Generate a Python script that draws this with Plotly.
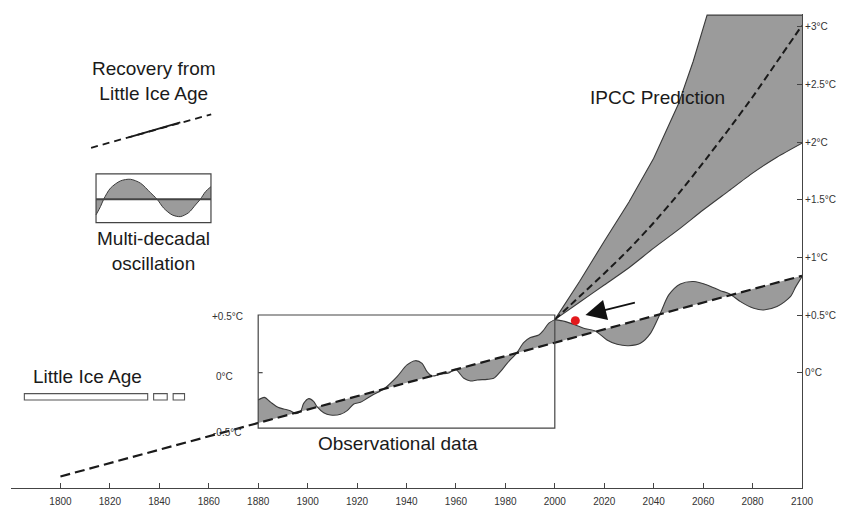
import numpy as np
import plotly.graph_objects as go

# ---------------- data ----------------
x_tick_vals = [1780, 1800, 1820, 1840, 1860, 1880, 1900, 1920, 1940, 1960, 1980, 2000, 2020, 2040, 2060, 2080, 2100]
x_tick_text = ["", "1800", "1820", "1840", "1860", "1880", "1900", "1920", "1940", "1960", "1980", "2000", "2020", "2040", "2060", "2080", "2100"]
y_tick_vals = [0, 0.5, 1.0, 1.5, 2.0, 2.5, 3.0]
y_tick_text = ["0°C", "+0.5°C", "+1°C", "+1.5°C", "+2°C", "+2.5°C", "+3°C"]

# long-term recovery trend (dashed)
trend_years = [1800, 2100]
trend_vals = [-0.90, 0.84]

# observational curve 1880-2000
obs_years = [1880.0, 1882.5, 1885.0, 1888.0, 1890.3, 1893.0, 1895.1, 1897.1, 1898.4, 1900.5, 1902.5,
             1903.8, 1906.5, 1909.2, 1913.3, 1916.0, 1918.7, 1921.4, 1924.1, 1926.8, 1930.8,
             1936.2, 1940.2, 1943.6, 1946.3, 1948.3, 1950.4, 1953.7, 1957.1, 1959.8, 1963.2,
             1965.9, 1968.6, 1972.6, 1975.3, 1978.0, 1980.7, 1984.7, 1987.4, 1990.1, 1993.5,
             1995.5, 1997.5, 2000.0]
obs_vals = [-0.237, -0.214, -0.255, -0.300, -0.315, -0.330, -0.355, -0.338, -0.266, -0.225, -0.251,
            -0.295, -0.347, -0.367, -0.361, -0.329, -0.271, -0.257, -0.222, -0.188, -0.141,
            -0.034, 0.067, 0.104, 0.081, 0.009, -0.029, -0.012, -0.002, 0.029, -0.049,
            -0.072, -0.063, -0.058, -0.049, 0.009, 0.081, 0.174, 0.260, 0.304, 0.327,
            0.370, 0.428, 0.460]

# projected multi-decadal oscillation 2000-2100
fut_years = [2000.0, 2004.0, 2008.3, 2011.7, 2016.4, 2021.1, 2025.2, 2029.9, 2034.6, 2038.7,
             2042.7, 2046.1, 2050.8, 2056.2, 2061.6, 2067.0, 2070.8, 2075.1, 2080.5, 2084.5,
             2089.9, 2095.3, 2097.5, 2100.0]
fut_vals = [0.460, 0.445, 0.414, 0.385, 0.362, 0.284, 0.246, 0.234, 0.255, 0.341,
            0.515, 0.674, 0.769, 0.790, 0.761, 0.711, 0.683, 0.616, 0.558, 0.544,
            0.573, 0.659, 0.746, 0.833]

# IPCC prediction band
ipcc_years = [2000, 2010, 2020, 2030, 2040, 2050, 2060, 2070, 2080, 2090, 2100]
ipcc_mid = [0.46, 0.66, 0.86, 1.07, 1.30, 1.55, 1.82, 2.10, 2.39, 2.70, 3.01]
ipcc_low = [0.46, 0.61, 0.76, 0.91, 1.08, 1.24, 1.41, 1.57, 1.73, 1.87, 1.99]
ipcc_up_years = [2000, 2010, 2020, 2030, 2040, 2050, 2056, 2061.6, 2100]
ipcc_up = [0.46, 0.79, 1.14, 1.48, 1.86, 2.33, 2.70, 3.10, 3.10]

# 2008 observation (red dot)
obs2008_year = [2008.3]
obs2008_val = [0.451]

# legend glyph: recovery line
rec_x = [1812.4, 1861.0]
rec_y = [1.95, 2.24]
rec_solid_x = [1827.6, 1848.5]
rec_solid_y = [2.04, 2.17]

# legend glyph: oscillation
osc_x = [1814.4, 1816.2, 1817.5, 1820.2, 1824.3, 1828.3, 1832.4, 1836.4, 1839.1, 1841.8,
         1845.2, 1848.5, 1851.9, 1854.6, 1856.6, 1858.7, 1860.9]
osc_y = [1.368, 1.440, 1.504, 1.599, 1.663, 1.677, 1.643, 1.561, 1.504, 1.426,
         1.368, 1.353, 1.388, 1.454, 1.504, 1.570, 1.613]
osc_center = 1.504

GRAY = "#9b9b9b"
EDGE = "#3a3a3a"
FONT = "Liberation Sans, Arial, Helvetica, sans-serif"

fig = go.Figure()

# observational fill
obs_trend = np.interp(obs_years, trend_years, trend_vals)
fig.add_trace(go.Scatter(x=obs_years, y=obs_trend, mode="lines", line=dict(width=0), hoverinfo="skip"))
fig.add_trace(go.Scatter(x=obs_years, y=obs_vals, mode="lines", fill="tonexty", fillcolor=GRAY,
                         line=dict(color=EDGE, width=1.1, shape="spline", smoothing=0.8)))

# future oscillation fill
fut_trend = np.interp(fut_years, trend_years, trend_vals)
fig.add_trace(go.Scatter(x=fut_years, y=fut_trend, mode="lines", line=dict(width=0), hoverinfo="skip"))
fig.add_trace(go.Scatter(x=fut_years, y=fut_vals, mode="lines", fill="tonexty", fillcolor=GRAY,
                         line=dict(color=EDGE, width=1.1, shape="spline", smoothing=0.8)))

# IPCC band
fig.add_trace(go.Scatter(x=ipcc_years, y=ipcc_low, mode="lines",
                         line=dict(color=EDGE, width=1.1, shape="spline", smoothing=0.6)))
fig.add_trace(go.Scatter(x=ipcc_up_years, y=ipcc_up, mode="lines", fill="tonexty", fillcolor=GRAY,
                         line=dict(color=EDGE, width=1.1)))
fig.add_trace(go.Scatter(x=ipcc_years, y=ipcc_mid, mode="lines",
                         line=dict(color="#1a1a1a", width=2, dash="7px,4px", shape="spline", smoothing=0.6)))

# trend line
fig.add_trace(go.Scatter(x=trend_years, y=trend_vals, mode="lines",
                         line=dict(color="#1a1a1a", width=2.2, dash="10px,5px")))

# legend glyph: recovery line
fig.add_trace(go.Scatter(x=rec_x, y=rec_y, mode="lines",
                         line=dict(color="#1a1a1a", width=1.8, dash="7px,5px")))
fig.add_trace(go.Scatter(x=rec_solid_x, y=rec_solid_y, mode="lines",
                         line=dict(color="#1a1a1a", width=1.8)))

# legend glyph: oscillation
fig.add_trace(go.Scatter(x=osc_x, y=[osc_center] * len(osc_x), mode="lines", line=dict(width=0), hoverinfo="skip"))
fig.add_trace(go.Scatter(x=osc_x, y=osc_y, mode="lines", fill="tonexty", fillcolor=GRAY,
                         line=dict(color=EDGE, width=1, shape="spline", smoothing=0.8)))
fig.add_trace(go.Scatter(x=[osc_x[0], osc_x[-1]], y=[osc_center, osc_center], mode="lines",
                         line=dict(color="#444444", width=2)))

# red dot
fig.add_trace(go.Scatter(x=obs2008_year, y=obs2008_val, mode="markers",
                         marker=dict(color="#e3191c", size=9, line=dict(width=0))))

shapes = [
    # observational box
    dict(type="rect", xref="x", yref="y", x0=1880, x1=2000, y0=-0.48, y1=0.5,
         line=dict(color="#444444", width=1.2), layer="above"),
    dict(type="line", xref="x", yref="y", x0=1880, x1=1881.8, y0=0, y1=0,
         line=dict(color="#444444", width=1.2)),
    # oscillation legend box
    dict(type="rect", xref="x", yref="y", x0=osc_x[0], x1=osc_x[-1], y0=1.301, y1=1.723,
         line=dict(color="#444444", width=1.2)),
    # Little Ice Age bars
    dict(type="rect", xref="x", yref="y", x0=1785.4, x1=1835.3, y0=-0.237, y1=-0.182,
         line=dict(color="#555555", width=1.1), fillcolor="white"),
    dict(type="rect", xref="x", yref="y", x0=1837.7, x1=1843.2, y0=-0.237, y1=-0.182,
         line=dict(color="#555555", width=1.1), fillcolor="white"),
    dict(type="rect", xref="x", yref="y", x0=1845.6, x1=1850.2, y0=-0.237, y1=-0.182,
         line=dict(color="#555555", width=1.1), fillcolor="white"),
]

big = dict(family=FONT, size=19, color="#1a1a1a")
small = dict(family=FONT, size=10, color="#333333")
annotations = [
    dict(x=1837.7, y=2.532, text="Recovery from<br>Little Ice Age", showarrow=False, font=big),
    dict(x=1837.7, y=1.057, text="Multi-decadal<br>oscillation", showarrow=False, font=big),
    dict(x=1811.1, y=-0.033, text="Little Ice Age", showarrow=False, font=big),
    dict(x=1936.7, y=-0.61, text="Observational data", showarrow=False, font=big),
    dict(x=2041.5, y=2.39, text="IPCC Prediction", showarrow=False, font=big),
    dict(x=1867.6, y=0.483, text="+0.5°C", showarrow=False, font=small),
    dict(x=1866.2, y=-0.03, text="0°C", showarrow=False, font=small),
    dict(x=1867.4, y=-0.52, text="-0.5°C", showarrow=False, font=small),
    dict(x=2012.4, y=0.50, ax=2033.0, ay=0.61, axref="x", ayref="y", text="",
         showarrow=True, arrowhead=2, arrowsize=2.3, arrowwidth=1.8, arrowcolor="#111111"),
]

fig.update_layout(
    width=842, height=506,
    margin=dict(l=11, r=40, t=14, b=18),
    paper_bgcolor="white", plot_bgcolor="white",
    showlegend=False,
    font=dict(family=FONT, color="#222222"),
    shapes=shapes, annotations=annotations,
    xaxis=dict(range=[1780, 2100], tickmode="array", tickvals=x_tick_vals, ticktext=x_tick_text,
               ticks="inside", ticklen=5, tickcolor="#444444", tickwidth=1.2,
               showline=True, linecolor="#444444", linewidth=1.2, ticklabelstandoff=4,
               showgrid=False, zeroline=False, tickfont=small, automargin=False),
    yaxis=dict(range=[-1.0, 3.11], side="right", tickmode="array", tickvals=y_tick_vals, ticktext=y_tick_text,
               ticks="inside", ticklen=5, tickcolor="#444444", tickwidth=1.2,
               showline=True, linecolor="#444444", linewidth=1.2,
               showgrid=False, zeroline=False, tickfont=small, automargin=False),
)

fig.write_html("out.html")
